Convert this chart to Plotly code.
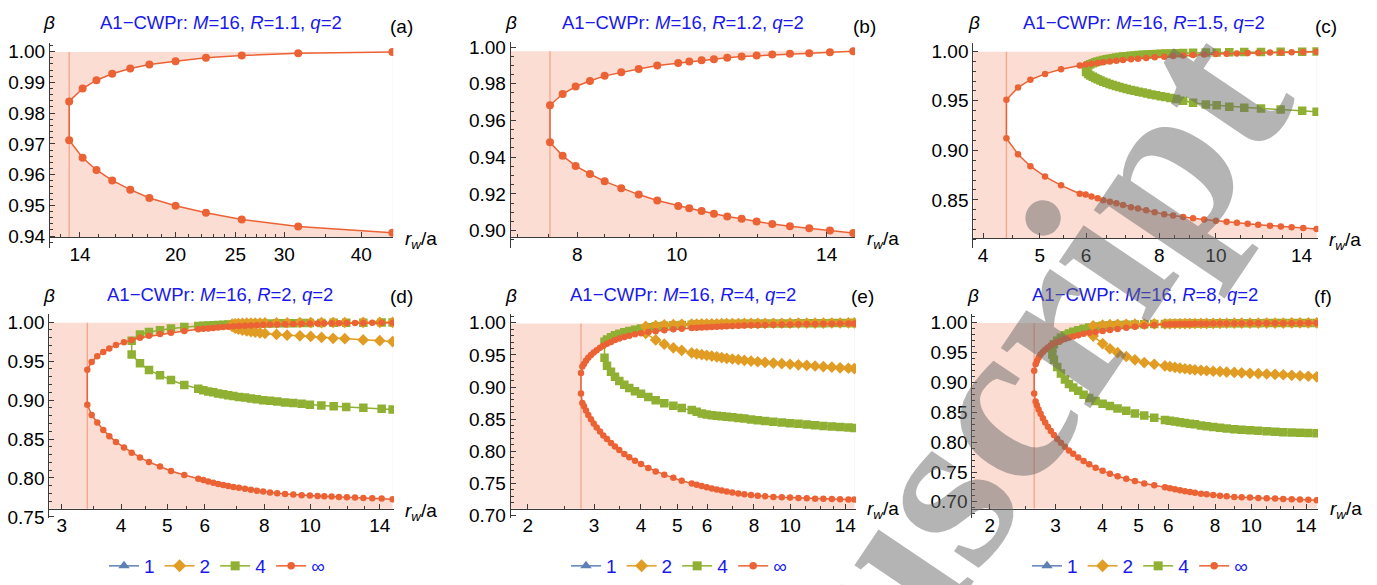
import math
import plotly.graph_objects as go

W, H = 1377, 585
C_INF = '#EB6235'
C_4 = '#8FB032'
C_2 = '#E19C24'
C_1 = '#5E81B5'
BLUE = 'rgb(25,25,235)'
AX = '#3a3a3a'
FONT = 'Liberation Sans, Arial, sans-serif'

# ---------------- data (r_w/a , beta) ----------------
# (a) R=1.1
a_x = [13.45, 14.14, 14.89, 15.79, 16.89, 18.14, 20.0, 22.4, 25.6, 31.6, 44.9]
a_inf_up = [0.9838, 0.9880, 0.9907, 0.9928, 0.9945, 0.9958, 0.9969, 0.9980, 0.9987, 0.9995, 0.9999]
a_inf_lo = [0.9712, 0.9655, 0.9615, 0.9581, 0.9551, 0.9524, 0.9499, 0.9476, 0.9454, 0.9431, 0.9411]

# (b) R=1.2
b_x = [7.525, 7.742, 7.971, 8.231, 8.507, 8.830, 9.182, 9.573, 10.034, 10.286, 10.575, 10.872,
       11.201, 11.569, 11.965, 12.391, 12.893, 13.464, 14.104, 14.861]
b_inf_up = [0.9683, 0.9744, 0.9785, 0.9815, 0.9843, 0.9862, 0.9880, 0.9900, 0.9913, 0.9921, 0.9928,
            0.9934, 0.9942, 0.9949, 0.9954, 0.9959, 0.9963, 0.9966, 0.9971, 0.9977]
b_inf_lo = [0.9481, 0.9407, 0.9352, 0.9308, 0.9268, 0.9231, 0.9196, 0.9164, 0.9134, 0.9122, 0.9107,
            0.9092, 0.9077, 0.9064, 0.9049, 0.9035, 0.9023, 0.9012, 0.9000, 0.8987]

# (c) R=1.5
c_x = [4.386, 4.591, 4.820, 5.106, 5.438, 5.853, 5.99, 6.13, 6.28, 6.42, 6.59, 6.76, 6.94, 7.16, 7.36,
       7.60, 7.86, 8.16, 8.45, 8.79, 9.14, 9.55, 10.0, 10.43, 10.86, 11.33, 11.81, 12.37, 12.91, 13.47,
       14.10, 14.86]
c_inf_up = [0.9510, 0.9634, 0.9713, 0.9772, 0.9818, 0.9857, 0.9866, 0.9875, 0.9883, 0.9890, 0.9898,
            0.9905, 0.9912, 0.9919, 0.9926, 0.9933, 0.9940, 0.9946, 0.9952, 0.9957, 0.9962, 0.9967,
            0.9972, 0.9976, 0.9979, 0.9982, 0.9985, 0.9987, 0.9989, 0.9991, 0.9993, 0.9995]
c_inf_lo = [0.9122, 0.8961, 0.8840, 0.8735, 0.8647, 0.8562, 0.8553, 0.8533, 0.8517, 0.8495, 0.8480,
            0.8465, 0.8448, 0.8426, 0.8412, 0.8396, 0.8376, 0.8356, 0.8343, 0.8327, 0.8314, 0.8301,
            0.8288, 0.8278, 0.8269, 0.8259, 0.8249, 0.8239, 0.8232, 0.8223, 0.8216, 0.8206]
c_g_x = [6.00, 6.05, 6.10, 6.16, 6.22, 6.28, 6.35, 6.42, 6.50, 6.58, 6.66, 6.75, 6.84, 6.94, 7.04, 7.15,
         7.26, 7.38, 7.50, 7.63, 7.76, 7.90, 8.05, 8.20, 8.36, 8.55, 8.79, 9.14, 9.61, 10.03, 10.54,
         11.18, 11.94, 12.90, 14.04, 14.86]
c_g_up = [0.9840, 0.9858, 0.9870, 0.9880, 0.9889, 0.9897, 0.9905, 0.9912, 0.9919, 0.9925, 0.9931,
          0.9937, 0.9942, 0.9947, 0.9951, 0.9955, 0.9959, 0.9962, 0.9965, 0.9968, 0.9971, 0.9973,
          0.9975, 0.9977, 0.9979, 0.9981, 0.9983, 0.9985, 0.9987, 0.9989, 0.9990, 0.9992, 0.9993,
          0.9995, 0.9996, 0.9997]
c_g_lo = [0.9790, 0.9772, 0.9757, 0.9743, 0.9730, 0.9718, 0.9706, 0.9694, 0.9682, 0.9671, 0.9660,
          0.9650, 0.9640, 0.9630, 0.9620, 0.9610, 0.9601, 0.9592, 0.9583, 0.9574, 0.9565, 0.9556,
          0.9547, 0.9538, 0.9529, 0.9519, 0.9500, 0.9480, 0.9463, 0.9455, 0.9440, 0.9431, 0.9422,
          0.9412, 0.9399, 0.9389]

# (d) R=2
d_x = [3.396, 3.469, 3.564, 3.670, 3.778, 3.902, 4.056, 4.210, 4.383, 4.578, 4.829, 5.093, 5.433,
       5.813, 5.956, 6.10, 6.25, 6.40, 6.56, 6.72, 6.89, 7.08, 7.29, 7.50, 7.72, 7.96, 8.23, 8.52,
       8.85, 9.21, 9.59, 9.98, 10.36, 10.70, 11.09, 11.49, 11.94, 12.42, 12.93, 13.50, 14.13, 14.90]
d_inf_up = [0.9389, 0.9489, 0.9564, 0.9618, 0.9663, 0.9706, 0.9743, 0.9772, 0.9800, 0.9825, 0.9847,
            0.9863, 0.9888, 0.9909, 0.9915, 0.9920, 0.9926, 0.9932, 0.9937, 0.9942, 0.9947, 0.9951,
            0.9955, 0.9959, 0.9962, 0.9966, 0.9969, 0.9972, 0.9975, 0.9977, 0.9980, 0.9982, 0.9984,
            0.9985, 0.9987, 0.9988, 0.9989, 0.9990, 0.9991, 0.9992, 0.9993, 0.9994]
d_inf_lo = [0.8940, 0.8808, 0.8712, 0.8616, 0.8537, 0.8463, 0.8392, 0.8325, 0.8263, 0.8204, 0.8147,
            0.8089, 0.8039, 0.7989, 0.7973, 0.7955, 0.7939, 0.7923, 0.7910, 0.7898, 0.7885, 0.7873,
            0.7860, 0.7848, 0.7835, 0.7827, 0.7814, 0.7802, 0.7793, 0.7786, 0.7777, 0.7773, 0.7768,
            0.7764, 0.7761, 0.7756, 0.7752, 0.7748, 0.7743, 0.7739, 0.7735, 0.7727]
d_g_x = [4.210, 4.383, 4.578, 4.829, 5.093, 5.433, 5.813, 5.956, 6.10, 6.25, 6.40, 6.56, 6.72, 6.89,
         7.08, 7.29, 7.50, 7.72, 7.96, 8.23, 8.52, 8.85, 9.21, 9.59, 9.98, 10.55, 11.2, 11.9, 12.93,
         14.13, 14.90]
d_g_up = [0.9763, 0.9843, 0.9875, 0.9897, 0.9918, 0.9938, 0.9950, 0.9955, 0.9959, 0.9962, 0.9965,
          0.9968, 0.9971, 0.9973, 0.9975, 0.9977, 0.9979, 0.9981, 0.9982, 0.9984, 0.9985, 0.9986,
          0.9988, 0.9989, 0.9990, 0.9991, 0.9992, 0.9993, 0.9994, 0.9995, 0.9996]
d_g_lo = [0.9585, 0.9473, 0.9385, 0.9319, 0.9257, 0.9194, 0.9145, 0.9127, 0.9111, 0.9099, 0.9086,
          0.9074, 0.9061, 0.9052, 0.9040, 0.9032, 0.9020, 0.9011, 0.8999, 0.8990, 0.8983, 0.8970,
          0.8961, 0.8953, 0.8940, 0.8930, 0.8920, 0.8910, 0.8900, 0.8890, 0.8880]
d_o_x = [6.85, 6.95, 7.06, 7.20, 7.35, 7.50, 7.66, 7.84, 8.03, 8.49, 8.94, 9.51, 10.02, 10.56, 11.17,
         11.82, 12.92, 14.0, 14.9]
d_o_up = [0.9975, 0.9980, 0.9983, 0.9985, 0.9987, 0.9988, 0.9989, 0.9990, 0.9991, 0.9992, 0.9993,
          0.9994, 0.9995, 0.9995, 0.9996, 0.9996, 0.9997, 0.9997, 0.9998]
d_o_lo = [0.9945, 0.9925, 0.9910, 0.9898, 0.9888, 0.9880, 0.9872, 0.9864, 0.9855, 0.9843, 0.9834,
          0.9825, 0.9817, 0.9805, 0.9793, 0.9788, 0.9772, 0.9763, 0.9751]

# (e) R=4
e_x = [2.770, 2.793, 2.821, 2.856, 2.897, 2.945, 2.995, 3.050, 3.113, 3.176, 3.249, 3.330, 3.412,
       3.504, 3.613, 3.725, 3.858, 4.003, 4.186, 4.380, 4.617, 4.880, 5.138, 5.463, 5.633, 5.808,
       5.990, 6.177, 6.369, 6.567, 6.771, 7.009, 7.271, 7.544, 7.860, 8.190, 8.565, 9.013, 9.489,
       9.985, 10.51, 11.06, 11.64, 12.25, 12.90, 13.57, 14.28, 14.81]
e_inf_up = [0.9219, 0.9320, 0.9360, 0.9410, 0.9455, 0.9500, 0.9537, 0.9573, 0.9610, 0.9642, 0.9675,
            0.9703, 0.9732, 0.9756, 0.9780, 0.9800, 0.9820, 0.9838, 0.9855, 0.9870, 0.9885, 0.9898,
            0.9908, 0.9918, 0.9923, 0.9927, 0.9931, 0.9935, 0.9939, 0.9942, 0.9946, 0.9950, 0.9953,
            0.9957, 0.9960, 0.9963, 0.9966, 0.9969, 0.9972, 0.9975, 0.9977, 0.9980, 0.9982, 0.9984,
            0.9986, 0.9988, 0.9989, 0.9990]
e_inf_lo = [0.8902, 0.8751, 0.8701, 0.8634, 0.8565, 0.8499, 0.8434, 0.8373, 0.8308, 0.8248, 0.8192,
            0.8131, 0.8076, 0.8021, 0.7961, 0.7910, 0.7855, 0.7804, 0.7743, 0.7689, 0.7638, 0.7588,
            0.7542, 0.7502, 0.7482, 0.7462, 0.7441, 0.7421, 0.7406, 0.7391, 0.7376, 0.7361, 0.7346,
            0.7335, 0.7320, 0.7311, 0.7301, 0.7290, 0.7285, 0.7281, 0.7275, 0.7270, 0.7265, 0.7262,
            0.7259, 0.7256, 0.7253, 0.7250]
e_g_x = [3.20] + e_x[10:]
e_g_up = [0.9707, 0.9740, 0.9775, 0.9805, 0.9830, 0.9852, 0.9873, 0.9893, 0.9910, 0.9930, 0.9945,
          0.9955, 0.9962, 0.9967, 0.9971, 0.9973, 0.9975, 0.9977, 0.9978, 0.9979, 0.9980, 0.9981,
          0.9982, 0.9983, 0.9984, 0.9985, 0.9986, 0.9987, 0.9988, 0.9989, 0.9990, 0.9991, 0.9992,
          0.9993, 0.9994, 0.9995, 0.9996, 0.9997, 0.9998]
e_g_lo = [0.9456, 0.9330, 0.9240, 0.9160, 0.9095, 0.9035, 0.8985, 0.8935, 0.8895, 0.8844, 0.8795,
          0.8750, 0.8708, 0.8676, 0.8645, 0.8617, 0.8590, 0.8575, 0.8563, 0.8555, 0.8548, 0.8540,
          0.8530, 0.8520, 0.8510, 0.8495, 0.8484, 0.8472, 0.8460, 0.8450, 0.8438, 0.8428, 0.8418,
          0.8405, 0.8395, 0.8387, 0.8378, 0.8370, 0.8363]
e_o_x = [4.12] + e_x[19:]
e_o_up = [0.9944, 0.9958, 0.9966, 0.9972, 0.9976, 0.9980, 0.9981, 0.9982, 0.9983, 0.9984, 0.9985,
          0.9986, 0.9987, 0.9988, 0.9989, 0.9990, 0.9991, 0.9991, 0.9992, 0.9993, 0.9993, 0.9994,
          0.9995, 0.9995, 0.9996, 0.9996, 0.9997, 0.9997, 0.9998, 0.9998]
e_o_lo = [0.9834, 0.9733, 0.9667, 0.9610, 0.9570, 0.9532, 0.9518, 0.9505, 0.9494, 0.9482, 0.9470,
          0.9459, 0.9448, 0.9437, 0.9426, 0.9415, 0.9404, 0.9394, 0.9384, 0.9374, 0.9364, 0.9355,
          0.9346, 0.9337, 0.9328, 0.9318, 0.9309, 0.9300, 0.9293, 0.9288]

# (f) R=8
f_x = [2.63, 2.653, 2.674, 2.702, 2.735, 2.774, 2.814, 2.861, 2.914, 2.969, 3.030, 3.099, 3.177,
       3.256, 3.343, 3.448, 3.564, 3.689, 3.837, 4.006, 4.190, 4.393, 4.633, 4.887, 5.175, 5.504,
       5.878, 6.062, 6.251, 6.447, 6.647, 6.856, 7.070, 7.336, 7.597, 7.912, 8.246, 8.592, 9.004,
       9.423, 9.918, 10.44, 10.99, 11.57, 12.17, 12.82, 13.49, 14.20, 14.95]
f_inf_up = [0.9196, 0.9305, 0.9359, 0.9414, 0.9468, 0.9512, 0.9549, 0.9587, 0.9625, 0.9651, 0.9678,
            0.9705, 0.9727, 0.9749, 0.9772, 0.9793, 0.9815, 0.9831, 0.9847, 0.9863, 0.9880, 0.9896,
            0.9918, 0.9935, 0.9951, 0.9961, 0.9972, 0.9974, 0.9976, 0.9978, 0.9980, 0.9981, 0.9983,
            0.9984, 0.9985, 0.9986, 0.9987, 0.9988, 0.9989, 0.9990, 0.9991, 0.9992, 0.9992, 0.9993,
            0.9993, 0.9994, 0.9994, 0.9995, 0.9995]
f_inf_lo = [0.8817, 0.8682, 0.8617, 0.8546, 0.8476, 0.8399, 0.8329, 0.8259, 0.8188, 0.8118, 0.8053,
            0.7988, 0.7923, 0.7862, 0.7804, 0.7744, 0.7683, 0.7630, 0.7570, 0.7521, 0.7472, 0.7430,
            0.7386, 0.7348, 0.7309, 0.7277, 0.7244, 0.7228, 0.7212, 0.7195, 0.7179, 0.7163, 0.7153,
            0.7137, 0.7126, 0.7114, 0.7104, 0.7093, 0.7082, 0.7077, 0.7072, 0.7066, 0.7060, 0.7055,
            0.7049, 0.7044, 0.7039, 0.7033, 0.7028]
f_g_x = [2.94] + f_x[9:]
f_g_up = [0.9580, 0.9640, 0.9700, 0.9750, 0.9790, 0.9820, 0.9850, 0.9875, 0.9900, 0.9920, 0.9938,
          0.9950, 0.9958, 0.9964, 0.9969, 0.9973, 0.9976, 0.9979, 0.9981, 0.9982, 0.9983, 0.9984,
          0.9985, 0.9986, 0.9987, 0.9988, 0.9989, 0.9990, 0.9991, 0.9992, 0.9993, 0.9993, 0.9994,
          0.9994, 0.9995, 0.9995, 0.9996, 0.9996, 0.9997, 0.9997, 0.9998]
f_g_lo = [0.9470, 0.9380, 0.9260, 0.9150, 0.9050, 0.8975, 0.8915, 0.8860, 0.8795, 0.8740, 0.8690,
          0.8645, 0.8605, 0.8565, 0.8525, 0.8480, 0.8445, 0.8410, 0.8373, 0.8360, 0.8347, 0.8335,
          0.8323, 0.8310, 0.8298, 0.8280, 0.8266, 0.8252, 0.8240, 0.8228, 0.8217, 0.8207, 0.8198,
          0.8190, 0.8182, 0.8175, 0.8168, 0.8162, 0.8157, 0.8153, 0.8150]
f_o_x = [3.78] + f_x[19:]
f_o_up = [0.9950, 0.9962, 0.9968, 0.9972, 0.9975, 0.9977, 0.9979, 0.9981, 0.9982, 0.9983, 0.9984,
          0.9985, 0.9986, 0.9987, 0.9988, 0.9989, 0.9990, 0.9991, 0.9991, 0.9992, 0.9993, 0.9993,
          0.9994, 0.9995, 0.9995, 0.9996, 0.9996, 0.9997, 0.9997, 0.9998, 0.9998]
f_o_lo = [0.9777, 0.9650, 0.9565, 0.9500, 0.9435, 0.9380, 0.9333, 0.9305, 0.9278, 0.9265, 0.9252,
          0.9240, 0.9230, 0.9220, 0.9212, 0.9204, 0.9196, 0.9188, 0.9182, 0.9175, 0.9168, 0.9161,
          0.9154, 0.9148, 0.9142, 0.9136, 0.9129, 0.9120, 0.9112, 0.9104, 0.9095]

R_values = ['1.1', '1.2', '1.5', '2', '4', '8']
letters = ['(a)', '(b)', '(c)', '(d)', '(e)', '(f)']
legend_names = ['1', '2', '4', '∞']

x_major = [[14, 20, 25, 30, 40], [8, 10, 14], [4, 5, 6, 8, 10, 14],
           [3, 4, 5, 6, 8, 10, 14], [2, 3, 4, 5, 6, 8, 10, 14], [2, 3, 4, 5, 6, 8, 10, 14]]
x_minor = [[13, 15, 16, 17, 18, 19, 21, 22, 23, 24, 26, 27, 28, 29, 35],
           [7, 7.5, 8.5, 9, 9.5, 11, 12, 13],
           [4.5, 5.5, 6.5, 7, 7.5, 8.5, 9, 9.5, 11, 12, 13],
           [3.5, 4.5, 5.5, 7, 9, 11, 12, 13],
           [2.5, 3.5, 4.5, 5.5, 7, 9, 11, 12, 13],
           [2.5, 3.5, 4.5, 5.5, 7, 9, 11, 12, 13]]

# ---------------- layout geometry (pixels) ----------------
panels = [
    dict(xpx=(50, 393.3), ypx=(39.3, 250), xr=(12.52, 45.06), yr=(0.93622, 1.00275), xb=0.93969,
         ydt=0.01, ymdt=0.002, t0=0.94),
    dict(xpx=(510.7, 855), ypx=(38.3, 250), xr=(6.89, 14.92), yr=(0.89063, 1.00265), xb=0.89646,
         ydt=0.02, ymdt=0.005, t0=0.90),
    dict(xpx=(973.3, 1318.3), ypx=(39.3, 250), xr=(3.85, 14.96), yr=(0.80167, 1.00824), xb=0.81147,
         ydt=0.05, ymdt=0.01, t0=0.85),
    dict(xpx=(49.3, 394), ypx=(318.3, 528.3), xr=(2.825, 15.0), yr=(0.74863, 1.01047), xb=0.76060,
         ydt=0.05, ymdt=0.01, t0=0.75),
    dict(xpx=(510.7, 856), ypx=(318.3, 528.3), xr=(1.80, 14.96), yr=(0.69647, 1.01359), xb=0.71096,
         ydt=0.05, ymdt=0.01, t0=0.70),
    dict(xpx=(972.3, 1318), ypx=(318.3, 528.3), xr=(1.797, 15.07), yr=(0.67301, 1.01464), xb=0.68863,
         ydt=0.05, ymdt=0.01, t0=0.70),
]
title_pos = [(220.8, 18.3), (682.5, 18.3), (1144, 18.3), (220, 298.3), (682.5, 298.3), (1145, 298.3)]
letter_pos = [(401, 21.7), (864, 21.7), (1325.5, 21.7), (401, 300), (862.5, 300), (1323, 300)]
beta_pos = [(49, 18.3), (511, 18.3), (974, 18.3), (49, 299), (511, 299), (972.5, 299)]
rw_pos = [(403, 242), (865, 242), (1327, 243), (403, 521.7), (865, 520), (1328, 520)]
legend_px = [None, None, None, (104, 578), (566, 578), (1027, 578)]

inf_data = [(a_x, a_inf_up, a_inf_lo), (b_x, b_inf_up, b_inf_lo), (c_x, c_inf_up, c_inf_lo),
            (d_x, d_inf_up, d_inf_lo), (e_x, e_inf_up, e_inf_lo), (f_x, f_inf_up, f_inf_lo)]
green_data = [None, None, (c_g_x, c_g_up, c_g_lo), (d_g_x, d_g_up, d_g_lo),
              (e_g_x, e_g_up, e_g_lo), (f_g_x, f_g_up, f_g_lo)]
orange_data = [None, None, None, (d_o_x, d_o_up, d_o_lo), (e_o_x, e_o_up, e_o_lo),
               (f_o_x, f_o_up, f_o_lo)]

for grp in (inf_data, green_data, orange_data):
    for item in grp:
        if item:
            assert len(item[0]) == len(item[1]) == len(item[2]), (len(item[0]), len(item[1]), len(item[2]))

PINK = 'rgba(235,98,53,0.22)'
VLINE = 'rgba(235,98,53,0.45)'

fig = go.Figure()
layout = dict(width=W, height=H, margin=dict(l=0, r=0, t=0, b=0),
              paper_bgcolor='white', plot_bgcolor='rgba(0,0,0,0)', showlegend=True)
annotations = []


def curve(x, up, lo):
    return list(reversed(x)) + list(x), list(reversed(up)) + list(lo)


for i, p in enumerate(panels):
    k = '' if i == 0 else str(i + 1)
    xa, ya = 'x' + k, 'y' + k
    x0, x1 = p['xpx'][0] / W, p['xpx'][1] / W
    y0, y1 = 1 - p['ypx'][1] / H, 1 - p['ypx'][0] / H
    ylo, yhi = p['yr']
    pos = y0 + (p['xb'] - ylo) / (yhi - ylo) * (y1 - y0)
    layout['xaxis' + k] = dict(
        type='log', domain=[x0, x1], range=[math.log10(p['xr'][0]), math.log10(p['xr'][1])],
        anchor='free', position=pos, showline=True, linecolor=AX, linewidth=1,
        ticks='inside', ticklen=5, tickwidth=1, tickcolor=AX,
        tickmode='array', tickvals=x_major[i], ticktext=[str(v) for v in x_major[i]],
        tickfont=dict(size=19, family=FONT, color='black'), showgrid=False, zeroline=False,
        minor=dict(tickmode='array', tickvals=x_minor[i], ticks='inside', ticklen=3,
                   tickcolor=AX, showgrid=False))
    layout['yaxis' + k] = dict(
        domain=[y0, y1], range=[ylo, yhi], anchor=xa, showline=True, linecolor=AX, linewidth=1,
        ticks='inside', ticklen=5, tickwidth=1, tickcolor=AX, tick0=p['t0'], dtick=p['ydt'],
        tickformat='.2f', tickfont=dict(size=19, family=FONT, color='black'),
        showgrid=False, zeroline=False,
        minor=dict(tick0=p['t0'], dtick=p['ymdt'], ticks='inside', ticklen=3, tickcolor=AX,
                   showgrid=False))

    xs, ups, los = inf_data[i]
    top = max(ups)
    xl = p['xr'][0]
    # pink region outside the infinity curve
    fig.add_trace(go.Scatter(x=[xl, xs[-1], xs[-1], xl, xl], y=[p['xb'], p['xb'], top, top, p['xb']],
                             fill='toself', fillcolor=PINK, mode='none', hoverinfo='skip',
                             showlegend=False, xaxis=xa, yaxis=ya))
    fig.add_trace(go.Scatter(x=list(xs) + list(reversed(xs)), y=list(ups) + list(reversed(los)),
                             fill='toself', fillcolor='white', mode='none', hoverinfo='skip',
                             showlegend=False, xaxis=xa, yaxis=ya))
    fig.add_trace(go.Scatter(x=[xs[0], xs[0]], y=[p['xb'], top], mode='lines',
                             line=dict(color=VLINE, width=1.3), hoverinfo='skip',
                             showlegend=False, xaxis=xa, yaxis=ya))
    big = i >= 2
    if green_data[i]:
        gx, gy = curve(*green_data[i])
        fig.add_trace(go.Scatter(x=gx, y=gy, mode='lines+markers',
                                 line=dict(color=C_4, width=1.5),
                                 marker=dict(symbol='square', size=8.5, color=C_4),
                                 showlegend=False, xaxis=xa, yaxis=ya))
    if orange_data[i]:
        ox, oy = curve(*orange_data[i])
        fig.add_trace(go.Scatter(x=ox, y=oy, mode='lines+markers',
                                 line=dict(color=C_2, width=1.5),
                                 marker=dict(symbol='diamond', size=9, color=C_2),
                                 showlegend=False, xaxis=xa, yaxis=ya))
    cx, cy = curve(xs, ups, los)
    fig.add_trace(go.Scatter(x=cx, y=cy, mode='lines+markers',
                             line=dict(color=C_INF, width=1.5),
                             marker=dict(symbol='circle', size=6.5 if big else 8, color=C_INF),
                             showlegend=False, xaxis=xa, yaxis=ya))

    # legends for bottom row
    if legend_px[i]:
        lname = 'legend' if i == 3 else ('legend2' if i == 4 else 'legend3')
        for nm, col, sym, sz in zip(legend_names, [C_1, C_2, C_4, C_INF],
                                    ['triangle-up', 'diamond', 'square', 'circle'], [10, 10, 9, 7.5]):
            fig.add_trace(go.Scatter(x=[None], y=[None], mode='lines+markers', name=nm,
                                     line=dict(color=col, width=1.5),
                                     marker=dict(symbol=sym, size=sz, color=col),
                                     legend=lname, xaxis=xa, yaxis=ya))
        lx, ly = legend_px[i]
        layout[lname] = dict(orientation='h', x=lx / W, y=1 - ly / H, xanchor='left', yanchor='middle',
                             font=dict(size=19, family=FONT, color=BLUE), bgcolor='rgba(0,0,0,0)',
                             itemwidth=30, tracegroupgap=0, itemclick=False)

    tx, ty = title_pos[i]
    annotations.append(dict(
        text=f'A1−CWPr: <i>M</i>=16, <i>R</i>={R_values[i]}, <i>q</i>=2', x=tx / W, y=1 - ty / H,
        xref='paper', yref='paper', xanchor='center', yanchor='middle', showarrow=False,
        font=dict(size=18.5, family=FONT, color=BLUE)))
    lx, ly = letter_pos[i]
    annotations.append(dict(text=letters[i], x=lx / W, y=1 - ly / H, xref='paper', yref='paper',
                            xanchor='center', yanchor='middle', showarrow=False,
                            font=dict(size=19, family=FONT, color='black')))
    bx, by = beta_pos[i]
    annotations.append(dict(text='<i>β</i>', x=bx / W, y=1 - by / H, xref='paper', yref='paper',
                            xanchor='center', yanchor='middle', showarrow=False,
                            font=dict(size=19, family=FONT, color='black')))
    rx, ry = rw_pos[i]
    annotations.append(dict(text='<i>r</i><sub><i>w</i></sub>/a', x=rx / W, y=1 - ry / H,
                            xref='paper', yref='paper', xanchor='left', yanchor='middle',
                            showarrow=False, font=dict(size=19, family=FONT, color='black')))

# watermark
annotations.append(dict(text='<b>Manuscript</b>', x=904 / W, y=1 - 554 / H, xref='paper', yref='paper',
                        xanchor='center', yanchor='middle', showarrow=False, textangle=-56,
                        font=dict(size=235, family='Liberation Serif, Times New Roman, serif',
                                  color='rgba(105,105,105,0.5)')))
layout['annotations'] = annotations
fig.update_layout(**layout)
fig.write_html('out.html')
